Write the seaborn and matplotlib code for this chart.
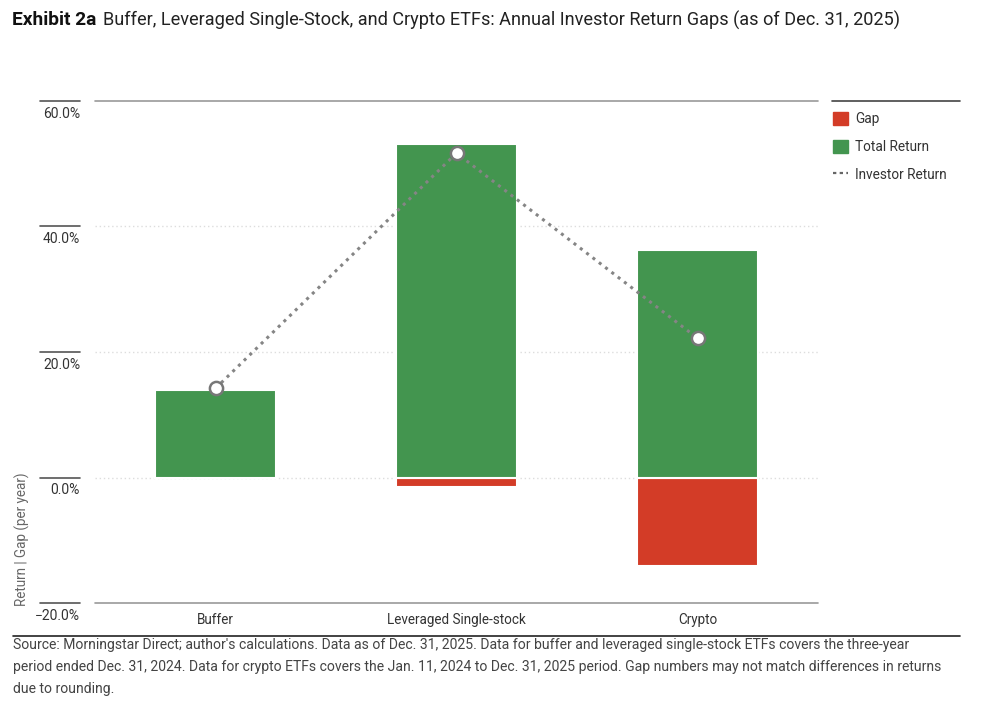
import matplotlib
matplotlib.use("Agg")
import matplotlib.pyplot as plt
import seaborn as sns
import pandas as pd
from matplotlib.patches import Patch
from matplotlib.lines import Line2D

# Chart values
categories = ["Buffer", "Leveraged Single-stock", "Crypto"]
total_return = [14.0, 53.2, 36.3]
investor_return = [14.2, 51.7, 22.2]
gap = [0.2, -1.5, -14.1]
y_ticks = [-20, 0, 20, 40, 60]

GREEN = "#43954f"
RED = "#d33c27"
GRAY = "#858585"
TEXT = "#333333"

sns.set_style("white")
plt.rcParams["font.family"] = ["Roboto", "DejaVu Sans"]

df = pd.DataFrame({"category": categories, "total": total_return,
                   "investor": investor_return, "gap": gap})

W, H = 986, 713
fig = plt.figure(figsize=(W / 100, H / 100), dpi=100)
renderer = fig.canvas.get_renderer()


def fit_size(s, target_px, weight="normal"):
    # font size that makes the string about target_px wide
    t = fig.text(0, 0, s, fontsize=10, fontweight=weight)
    w = t.get_window_extent(renderer).width
    t.remove()
    return 10 * target_px / w


ax = fig.add_axes([95 / W, (H - 603) / H, 723 / W, 502 / H])

# bars: gap first, total return on top
sns.barplot(data=df, x="category", y="gap", color=RED, width=0.5,
            edgecolor="white", linewidth=1.5, saturation=1, ax=ax)
sns.barplot(data=df, x="category", y="total", color=GREEN, width=0.5,
            edgecolor="white", linewidth=1.5, saturation=1, ax=ax)

# investor return line
sns.pointplot(data=df, x="category", y="investor", color=GRAY,
              linestyle=(0, (1, 1.6)), linewidth=2.2, marker="o",
              markersize=9.5, markerfacecolor="white", markeredgecolor="#777777",
              markeredgewidth=1.8, errorbar=None, ax=ax)

ax.set_xlim(-0.5, 2.5)
ax.set_ylim(-20, 60)
for s in ax.spines.values():
    s.set_visible(False)

# gridlines
for t in y_ticks:
    if t in (-20, 60):
        ax.axhline(t, color="#9a9a9a", lw=1.2, zorder=0, clip_on=False)
    else:
        ax.axhline(t, color="#dddddd", lw=1, ls=(0, (1, 2)), zorder=0)

# y tick marks and labels (line above the label)
ax.set_yticks([])
ytr = ax.get_yaxis_transform()
tick_fs = fit_size("60.0%", 37)
for t in y_ticks:
    ax.plot([-55 / 723, -15 / 723], [t, t], color="#555555", lw=1.2,
            transform=ytr, clip_on=False)
    ax.annotate(f"{t:.1f}%".replace("-", "\u2212"), xy=(-15 / 723, t), xycoords=ytr,
                xytext=(0, -13), textcoords="offset pixels", ha="right", va="center",
                fontsize=tick_fs, color=TEXT)

ax.set_xlabel("")
ax.set_ylabel("")
ax.tick_params(axis="x", length=0, pad=7, labelsize=fit_size("Leveraged Single-stock", 139),
               labelcolor=TEXT)

fig.text(22 / W, 1 - 606 / H, "Return | Gap (per year)", rotation=90,
         ha="center", va="bottom", fontsize=fit_size("Return | Gap (per year)", 135),
         color="#666666")

# legend
handles = [Patch(facecolor=RED, edgecolor=RED, label="Gap"),
           Patch(facecolor=GREEN, edgecolor=GREEN, label="Total Return"),
           Line2D([0], [0], color="#666666", lw=1.6, ls=(0, (1.5, 1.5)), label="Investor Return")]
leg = fig.legend(handles=handles, loc="upper left", bbox_to_anchor=(821 / W, 1 - 100 / H),
                 frameon=False, fontsize=fit_size("Investor Return", 92), handlelength=1.1,
                 handleheight=1.1, handletextpad=0.5, labelspacing=1.0, labelcolor=TEXT)
fig.add_artist(Line2D([832 / W, 960 / W], [1 - 101 / H, 1 - 101 / H], color="#444444", lw=1.2))

# title
bold_part = "Exhibit 2a"
rest = "Buffer, Leveraged Single-Stock, and Crypto ETFs: Annual Investor Return Gaps (as of Dec. 31, 2025)"
fig.text(12 / W, 1 - 20 / H, bold_part, fontsize=fit_size(bold_part, 85, "bold"),
         fontweight="bold", color="#111111", va="center")
fig.text(103 / W, 1 - 20 / H, rest, fontsize=fit_size(rest, 795), color="#222222", va="center")

# footer
fig.add_artist(Line2D([13 / W, 960 / W], [1 - 636 / H, 1 - 636 / H], color="#222222", lw=1.2))
footer_lines = [
    "Source: Morningstar Direct; author's calculations. Data as of Dec. 31, 2025. Data for buffer and leveraged single-stock ETFs covers the three-year",
    "period ended Dec. 31, 2024. Data for crypto ETFs covers the Jan. 11, 2024 to Dec. 31, 2025 period. Gap numbers may not match differences in returns",
    "due to rounding.",
]
fig.text(13 / W, 1 - 638 / H, "\n".join(footer_lines), fontsize=fit_size(footer_lines[1], 931),
         color="#444444", va="top", linespacing=1.75)

fig.savefig("out.png", dpi=100)
